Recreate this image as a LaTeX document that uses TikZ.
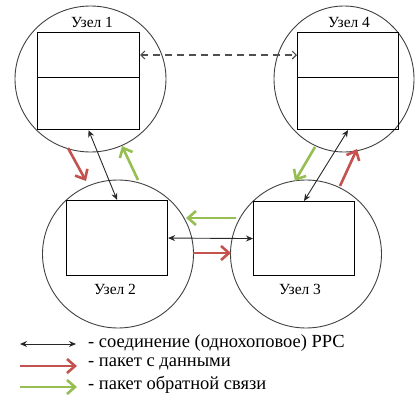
\documentclass[tikz,border=0pt]{standalone}
\usepackage{fontspec}
\setmainfont{Liberation Serif}
\usetikzlibrary{arrows.meta}
\definecolor{datared}{RGB}{196,82,78}
\definecolor{ackgreen}{RGB}{150,190,80}
\definecolor{linkgray}{RGB}{40,40,40}
\definecolor{dashgray}{RGB}{80,80,80}
\begin{document}
\begin{tikzpicture}[x=1pt,y=-1pt,
  nodecircle/.style={draw=black!75,line width=0.9pt},
  buf/.style={draw=black,line width=1.1pt,inner sep=0pt,anchor=north west},
  nodelabel/.style={font=\fontsize{15.5}{17}\selectfont,inner sep=0pt},
  legtext/.style={font=\fontsize{18.5}{20}\selectfont,anchor=west,inner sep=0pt},
  link/.style={draw=linkgray,line width=0.9pt,{Stealth[length=7pt,width=6pt]}-{Stealth[length=7pt,width=6pt]}},
  dlink/.style={draw=dashgray,line width=1.1pt,dash pattern=on 7pt off 5pt,
    {Straight Barb[length=4pt,width=8pt]}-{Straight Barb[length=4pt,width=8pt]}},
  datapkt/.style={draw=datared,line width=2.6pt,-{Straight Barb[length=8pt,width=14pt]}},
  ackpkt/.style={draw=ackgreen,line width=2.6pt,-{Straight Barb[length=8pt,width=14pt]}}
]
\useasboundingbox (0,0) rectangle (415,396);

% node circles
\draw[nodecircle] (90.5,79) ellipse [x radius=75.5,y radius=73];
\draw[nodecircle] (344,79) ellipse [x radius=70,y radius=73];
\draw[nodecircle] (118,254) ellipse [x radius=75.5,y radius=74];
\draw[nodecircle] (306,254) ellipse [x radius=75.5,y radius=74];

% buffers of nodes 1 and 4 (two sections each)
\node[buf,minimum width=102pt,minimum height=45pt] (r1a) at (37,32) {};
\node[buf,minimum width=102pt,minimum height=52pt] (r1b) at (37,77) {};
\node[buf,minimum width=101pt,minimum height=45pt] (r4a) at (297,32) {};
\node[buf,minimum width=101pt,minimum height=52pt] (r4b) at (297,77) {};
% buffers of nodes 2 and 3
\node[buf,minimum width=101pt,minimum height=75pt] (r2) at (66,200) {};
\node[buf,minimum width=101pt,minimum height=74pt] (r3) at (253,201) {};

% labels
\node[nodelabel] (l1) at (92,22) {Узел 1};
\node[nodelabel] (l4) at (349,22) {Узел 4};
\node[nodelabel] (l2) at (115,289) {Узел 2};
\node[nodelabel] (l3) at (300,289) {Узел 3};

% single-hop links
\draw[dlink] (r1a.east) -- (r4a.west);
\draw[link] (r1b.south) -- (r2.north);
\draw[link] (r4b.south) -- (r3.north);
\draw[link] (r2.east) -- (r3.west);

% packet flows
\coordinate (d12s) at (68,148);  \coordinate (d12e) at (86,181);
\coordinate (a21s) at (138,180); \coordinate (a21e) at (122,146);
\coordinate (a43s) at (315,147); \coordinate (a43e) at (295,181);
\coordinate (d34s) at (340,186); \coordinate (d34e) at (357,149);
\coordinate (a32s) at (236,218); \coordinate (a32e) at (186,218);
\coordinate (d23s) at (193,253); \coordinate (d23e) at (231,253);
\draw[datapkt] (d12s) -- (d12e);
\draw[ackpkt] (a21s) -- (a21e);
\draw[ackpkt] (a43s) -- (a43e);
\draw[datapkt] (d34s) -- (d34e);
\draw[ackpkt] (a32s) -- (a32e);
\draw[datapkt] (d23s) -- (d23e);

% legend
\coordinate (k1s) at (20,344); \coordinate (k1e) at (76,344);
\coordinate (k2s) at (20,366); \coordinate (k2e) at (77,366);
\coordinate (k3s) at (20,387); \coordinate (k3e) at (77,387);
\draw[link] (k1s) -- (k1e);
\draw[datapkt] (k2s) -- (k2e);
\draw[ackpkt] (k3s) -- (k3e);
\node[legtext] (t1) at (88,343) {- соединение (однохоповое) РРС};
\node[legtext] (t2) at (88,364) {- пакет с данными};
\node[legtext] (t3) at (88,385) {- пакет обратной связи};
\end{tikzpicture}
\end{document}
